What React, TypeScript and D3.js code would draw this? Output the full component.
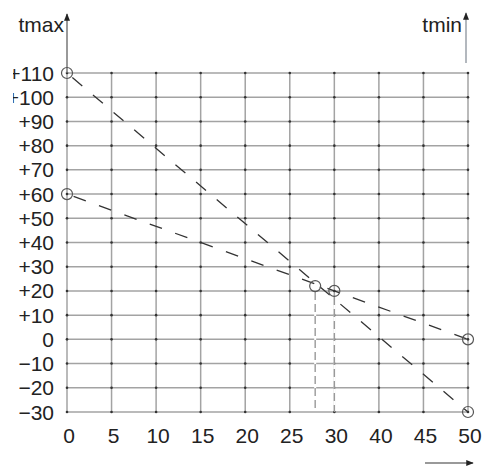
import React from "react";
import * as d3 from "d3";

const xLabels = ["0", "5", "10", "15", "20", "25", "30", "40", "45", "50"];
const yTicks = [110, 100, 90, 80, 70, 60, 50, 40, 30, 20, 10, 0, -10, -20, -30];
// lines given as [grid index, value]
const tmaxLine: [number, number][] = [[0, 110], [9, -30]];
const tminLine: [number, number][] = [[0, 60], [9, 0]];
const endMarkers: [number, number][] = [[0, 110], [9, -30], [0, 60], [9, 0]];
const dropMarkers: [number, number][] = [[5.57, 22], [6, 20]];

const W = 482, H = 467;
const x = d3.scaleLinear().domain([0, 9]).range([67, 468]);
const y = d3.scaleLinear().domain([-30, 110]).range([412, 73]);
const line = d3.line<[number, number]>().x(d => x(d[0])).y(d => y(d[1]));

const fmt = (v: number) => (v > 0 ? "+" + v : v < 0 ? "\u2212" + Math.abs(v) : "0");
const FONT = "'Liberation Sans', Arial, sans-serif";

export default function App() {
  const xs = d3.range(xLabels.length);
  return (
    <svg width={W} height={H} style={{ position: "absolute", left: 0, top: 0, background: "#fff" }}>
      <defs>
        <clipPath id="ylab"><rect x={13} y={0} width={60} height={H} /></clipPath>
        <marker id="arr" viewBox="0 0 10 10" refX="9" refY="5" markerWidth="5" markerHeight="6" orient="auto">
          <path d="M0,1 L10,5 L0,9 Z" fill="#222" />
        </marker>
      </defs>
      {/* grid */}
      <g stroke="#a3a3a3" strokeWidth={1.5}>
        {xs.map(i => (
          <line key={"v" + i} x1={x(i)} x2={x(i)} y1={y(110)} y2={y(-30)} />
        ))}
        {yTicks.map(v => (
          <line key={"h" + v} x1={x(0)} x2={x(9)} y1={y(v)} y2={y(v)} />
        ))}
      </g>
      <g fill="#333">
        {xs.map(i => yTicks.map(v => (
          <circle key={i + "_" + v} cx={x(i)} cy={y(v)} r={1.3} />
        )))}
      </g>
      {/* axes arrows */}
      <line x1={x(0)} x2={x(0)} y1={y(110)} y2={14} stroke="#777" strokeWidth={1.5} markerEnd="url(#arr)" />
      <line x1={466} x2={466} y1={63} y2={13} stroke="#9aa0a8" strokeWidth={1.5} markerEnd="url(#arr)" />
      <line x1={425} x2={473} y1={463} y2={463} stroke="#777" strokeWidth={1.5} markerEnd="url(#arr)" />
      {/* drop lines */}
      {dropMarkers.map((d, i) => (
        <g key={"d" + i}>
          <line x1={x(d[0])} x2={x(d[0])} y1={y(d[1]) + 6} y2={y(-30) - 1} stroke="#fff" strokeWidth={2} />
          <line x1={x(d[0])} x2={x(d[0])} y1={y(d[1]) + 6} y2={y(-30)}
            stroke="#999" strokeWidth={1.4} strokeDasharray="8 4" />
        </g>
      ))}
      {/* dashed lines */}
      <path d={line(tmaxLine) || ""} fill="none" stroke="#333" strokeWidth={1.3} strokeDasharray="13 14" strokeDashoffset={-7} />
      <path d={line(tminLine) || ""} fill="none" stroke="#333" strokeWidth={1.3} strokeDasharray="13 14" strokeDashoffset={-7} />
      {/* markers */}
      {endMarkers.concat(dropMarkers).map((d, i) => (
        <circle key={"m" + i} cx={x(d[0])} cy={y(d[1])} r={5.5} fill="none" stroke="#555" strokeWidth={1.2} />
      ))}
      {/* labels */}
      <g clipPath="url(#ylab)" fontFamily={FONT} fontSize={21} fill="#222" textAnchor="end">
        {yTicks.map(v => (
          <text key={"yl" + v} x={54} y={y(v) + 7.5}>{fmt(v)}</text>
        ))}
      </g>
      <g fontFamily={FONT} fontSize={21} fill="#222" textAnchor="middle">
        {xLabels.map((l, i) => (
          <text key={"xl" + i} x={x(i) + 2} y={443}>{l}</text>
        ))}
      </g>
      <text x={64} y={32} fontFamily={FONT} fontSize={21} fill="#222" textAnchor="end">tmax</text>
      <text x={462} y={32} fontFamily={FONT} fontSize={21} fill="#222" textAnchor="end">tmin</text>
    </svg>
  );
}
